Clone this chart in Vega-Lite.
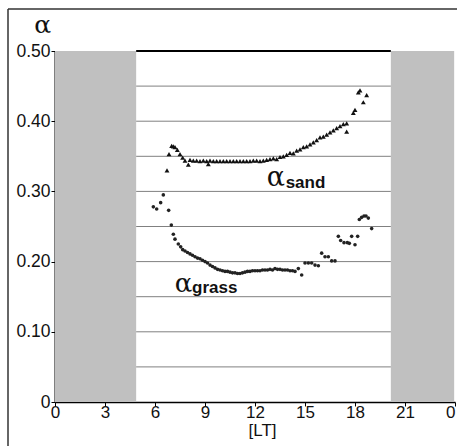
{
  "$schema": "https://vega.github.io/schema/vega-lite/v6.json",
  "width": 400,
  "height": 351,
  "autosize": "none",
  "padding": {"left": 55, "top": 51, "right": 2, "bottom": 44},
  "background": "white",
  "config": {"view": {"stroke": null}, "font": "Liberation Sans"},
  "datasets": {
    "bands": [{"start": 0, "end": 4.87}, {"start": 20.15, "end": 23.95}],
    "grid": [{"y": 0.05}, {"y": 0.1}, {"y": 0.15}, {"y": 0.2}, {"y": 0.25}, {"y": 0.3}, {"y": 0.35}, {"y": 0.4}, {"y": 0.45}],
    "sand": [
      {"t": 6.72, "a": 0.330}, {"t": 6.84, "a": 0.353}, {"t": 7.0, "a": 0.365}, {"t": 7.1, "a": 0.364},
      {"t": 7.2, "a": 0.363}, {"t": 7.34, "a": 0.359}, {"t": 7.5, "a": 0.353}, {"t": 7.66, "a": 0.348},
      {"t": 7.8, "a": 0.344}, {"t": 8.0, "a": 0.338}, {"t": 8.1, "a": 0.345}, {"t": 8.3, "a": 0.344},
      {"t": 8.5, "a": 0.344}, {"t": 8.7, "a": 0.343}, {"t": 8.9, "a": 0.344}, {"t": 9.1, "a": 0.343},
      {"t": 9.2, "a": 0.339}, {"t": 9.3, "a": 0.344}, {"t": 9.5, "a": 0.343}, {"t": 9.7, "a": 0.343},
      {"t": 9.9, "a": 0.343}, {"t": 10.1, "a": 0.343}, {"t": 10.3, "a": 0.343}, {"t": 10.5, "a": 0.343},
      {"t": 10.7, "a": 0.343}, {"t": 10.9, "a": 0.343}, {"t": 11.1, "a": 0.343}, {"t": 11.3, "a": 0.343},
      {"t": 11.5, "a": 0.343}, {"t": 11.7, "a": 0.343}, {"t": 11.9, "a": 0.344}, {"t": 12.1, "a": 0.344},
      {"t": 12.3, "a": 0.343}, {"t": 12.5, "a": 0.344}, {"t": 12.7, "a": 0.345}, {"t": 12.9, "a": 0.346},
      {"t": 13.1, "a": 0.347}, {"t": 13.3, "a": 0.346}, {"t": 13.5, "a": 0.349}, {"t": 13.7, "a": 0.350},
      {"t": 13.9, "a": 0.352}, {"t": 14.1, "a": 0.355}, {"t": 14.3, "a": 0.354}, {"t": 14.5, "a": 0.358},
      {"t": 14.7, "a": 0.360}, {"t": 14.9, "a": 0.363}, {"t": 15.1, "a": 0.364}, {"t": 15.3, "a": 0.367},
      {"t": 15.5, "a": 0.370}, {"t": 15.7, "a": 0.373}, {"t": 15.9, "a": 0.377}, {"t": 16.1, "a": 0.378},
      {"t": 16.3, "a": 0.381}, {"t": 16.5, "a": 0.384}, {"t": 16.7, "a": 0.387}, {"t": 16.9, "a": 0.390},
      {"t": 17.1, "a": 0.393}, {"t": 17.3, "a": 0.396}, {"t": 17.5, "a": 0.397}, {"t": 17.5, "a": 0.385},
      {"t": 17.9, "a": 0.412}, {"t": 18.0, "a": 0.416}, {"t": 18.2, "a": 0.441}, {"t": 18.3, "a": 0.444},
      {"t": 18.5, "a": 0.427}, {"t": 18.7, "a": 0.437}
    ],
    "grass": [
      {"t": 5.9, "a": 0.278}, {"t": 6.1, "a": 0.275}, {"t": 6.34, "a": 0.284}, {"t": 6.5, "a": 0.295},
      {"t": 6.82, "a": 0.273}, {"t": 6.98, "a": 0.252}, {"t": 7.1, "a": 0.239}, {"t": 7.2, "a": 0.232},
      {"t": 7.4, "a": 0.225}, {"t": 7.54, "a": 0.221}, {"t": 7.66, "a": 0.217}, {"t": 7.8, "a": 0.215},
      {"t": 7.95, "a": 0.213}, {"t": 8.1, "a": 0.211}, {"t": 8.25, "a": 0.209}, {"t": 8.4, "a": 0.207},
      {"t": 8.55, "a": 0.205}, {"t": 8.7, "a": 0.204}, {"t": 8.85, "a": 0.202}, {"t": 9.0, "a": 0.200},
      {"t": 9.15, "a": 0.198}, {"t": 9.3, "a": 0.195}, {"t": 9.45, "a": 0.193}, {"t": 9.6, "a": 0.191},
      {"t": 9.75, "a": 0.189}, {"t": 9.9, "a": 0.188}, {"t": 10.05, "a": 0.187}, {"t": 10.2, "a": 0.186},
      {"t": 10.35, "a": 0.186}, {"t": 10.5, "a": 0.185}, {"t": 10.65, "a": 0.184}, {"t": 10.8, "a": 0.184},
      {"t": 10.95, "a": 0.183}, {"t": 11.1, "a": 0.183}, {"t": 11.25, "a": 0.184}, {"t": 11.4, "a": 0.185},
      {"t": 11.55, "a": 0.186}, {"t": 11.7, "a": 0.186}, {"t": 11.85, "a": 0.187}, {"t": 12.0, "a": 0.187},
      {"t": 12.15, "a": 0.187}, {"t": 12.3, "a": 0.187}, {"t": 12.45, "a": 0.188}, {"t": 12.6, "a": 0.188},
      {"t": 12.75, "a": 0.188}, {"t": 12.9, "a": 0.189}, {"t": 13.05, "a": 0.188}, {"t": 13.2, "a": 0.190},
      {"t": 13.35, "a": 0.189}, {"t": 13.5, "a": 0.189}, {"t": 13.65, "a": 0.188}, {"t": 13.8, "a": 0.188},
      {"t": 13.95, "a": 0.188}, {"t": 14.1, "a": 0.187}, {"t": 14.25, "a": 0.187}, {"t": 14.4, "a": 0.186},
      {"t": 14.6, "a": 0.190}, {"t": 14.8, "a": 0.181}, {"t": 15.0, "a": 0.198}, {"t": 15.2, "a": 0.198},
      {"t": 15.4, "a": 0.198}, {"t": 15.6, "a": 0.195}, {"t": 15.8, "a": 0.194}, {"t": 16.0, "a": 0.212},
      {"t": 16.2, "a": 0.207}, {"t": 16.4, "a": 0.207}, {"t": 16.6, "a": 0.201}, {"t": 16.8, "a": 0.201},
      {"t": 17.0, "a": 0.236}, {"t": 17.14, "a": 0.230}, {"t": 17.34, "a": 0.227}, {"t": 17.54, "a": 0.227},
      {"t": 17.66, "a": 0.226}, {"t": 17.8, "a": 0.236}, {"t": 18.0, "a": 0.224}, {"t": 18.16, "a": 0.236},
      {"t": 18.26, "a": 0.260}, {"t": 18.4, "a": 0.263}, {"t": 18.54, "a": 0.265}, {"t": 18.66, "a": 0.265},
      {"t": 18.8, "a": 0.262}, {"t": 19.0, "a": 0.247}
    ],
    "alphas": [
      {"x": -1.25, "y": 0.5256, "txt": "α", "size": 25},
      {"x": 12.7, "y": 0.3077, "txt": "α", "size": 27},
      {"x": 7.18, "y": 0.1571, "txt": "α", "size": 26}
    ],
    "subs": [
      {"x": 13.84, "y": 0.3044, "txt": "sand"},
      {"x": 8.22, "y": 0.1548, "txt": "grass"}
    ]
  },
  "layer": [
    {
      "data": {"name": "bands"},
      "mark": {"type": "rect", "color": "#c0c0c0"},
      "encoding": {
        "x": {"field": "start", "type": "quantitative", "scale": {"domain": [0, 24], "nice": false, "zero": false},
          "axis": {"values": [0, 3, 6, 9, 12, 15, 18, 21, 24], "labelExpr": "datum.value == 24 ? '0' : datum.label",
            "labelAlign": {"condition": {"test": "datum.value == 24", "value": "right"}, "value": "center"},
            "grid": false, "title": "[LT]", "titleFontWeight": "normal", "titleFontSize": 17, "titleColor": "#111",
            "titlePadding": 2, "titleX": 207,
            "labelFontSize": 17, "labelColor": "#111", "labelPadding": -2, "tickSize": 4, "tickColor": "#000",
            "domainColor": "#000", "domainWidth": 1.5, "labelFlush": false, "labelOverlap": false}},
        "x2": {"field": "end"},
        "y": {"datum": 0, "type": "quantitative", "scale": {"domain": [0, 0.5], "nice": false},
          "axis": {"values": [0, 0.05, 0.1, 0.15, 0.2, 0.25, 0.3, 0.35, 0.4, 0.45, 0.5],
            "labelExpr": "datum.value == 0 ? '0' : format(datum.value, '.2f')",
            "grid": false, "title": null, "labelFontSize": 17.5, "labelColor": "#111", "labelPadding": 1,
            "tickSize": 4, "tickColor": "#000", "domainColor": "#000", "domainWidth": 2, "labelFlush": false, "labelOverlap": false}},
        "y2": {"datum": 0.5}
      }
    },
    {
      "data": {"name": "grid"},
      "mark": {"type": "rule", "color": "#808080", "strokeWidth": 1},
      "encoding": {
        "x": {"datum": 4.87, "type": "quantitative"},
        "x2": {"datum": 20.15},
        "y": {"field": "y", "type": "quantitative"}
      }
    },
    {
      "data": {"values": [{"y": 0.5}]},
      "mark": {"type": "rule", "color": "#000", "strokeWidth": 2},
      "encoding": {
        "x": {"datum": 4.87, "type": "quantitative"},
        "x2": {"datum": 20.15},
        "y": {"field": "y", "type": "quantitative"}
      }
    },
    {
      "data": {"values": [{"y": 0.5598}]},
      "mark": {"type": "rule", "color": "#333", "strokeWidth": 1.5},
      "encoding": {
        "x": {"datum": -2.82, "type": "quantitative"},
        "x2": {"datum": 24.5},
        "y": {"field": "y", "type": "quantitative"}
      }
    },
    {
      "data": {"values": [{"x": -2.82}]},
      "mark": {"type": "rule", "color": "#333", "strokeWidth": 1.5},
      "encoding": {
        "x": {"field": "x", "type": "quantitative"},
        "y": {"datum": 0.5598, "type": "quantitative"},
        "y2": {"datum": -0.07}
      }
    },
    {
      "data": {"name": "grass"},
      "mark": {"type": "point", "shape": "circle", "filled": true, "size": 13, "color": "#222", "opacity": 1},
      "encoding": {
        "x": {"field": "t", "type": "quantitative"},
        "y": {"field": "a", "type": "quantitative"}
      }
    },
    {
      "data": {"name": "sand"},
      "mark": {"type": "point", "shape": "triangle-up", "filled": true, "size": 24, "color": "#111", "opacity": 1},
      "encoding": {
        "x": {"field": "t", "type": "quantitative"},
        "y": {"field": "a", "type": "quantitative"}
      }
    },
    {
      "data": {"name": "alphas"},
      "mark": {"type": "text", "font": "DejaVu Serif", "align": "left", "baseline": "alphabetic", "color": "#111"},
      "encoding": {
        "x": {"field": "x", "type": "quantitative"},
        "y": {"field": "y", "type": "quantitative"},
        "text": {"field": "txt"},
        "size": {"field": "size", "type": "quantitative", "scale": null}
      }
    },
    {
      "data": {"name": "subs"},
      "mark": {"type": "text", "font": "Liberation Sans", "fontWeight": "bold", "fontSize": 17, "align": "left", "baseline": "alphabetic", "color": "#111"},
      "encoding": {
        "x": {"field": "x", "type": "quantitative"},
        "y": {"field": "y", "type": "quantitative"},
        "text": {"field": "txt"}
      }
    }
  ]
}
